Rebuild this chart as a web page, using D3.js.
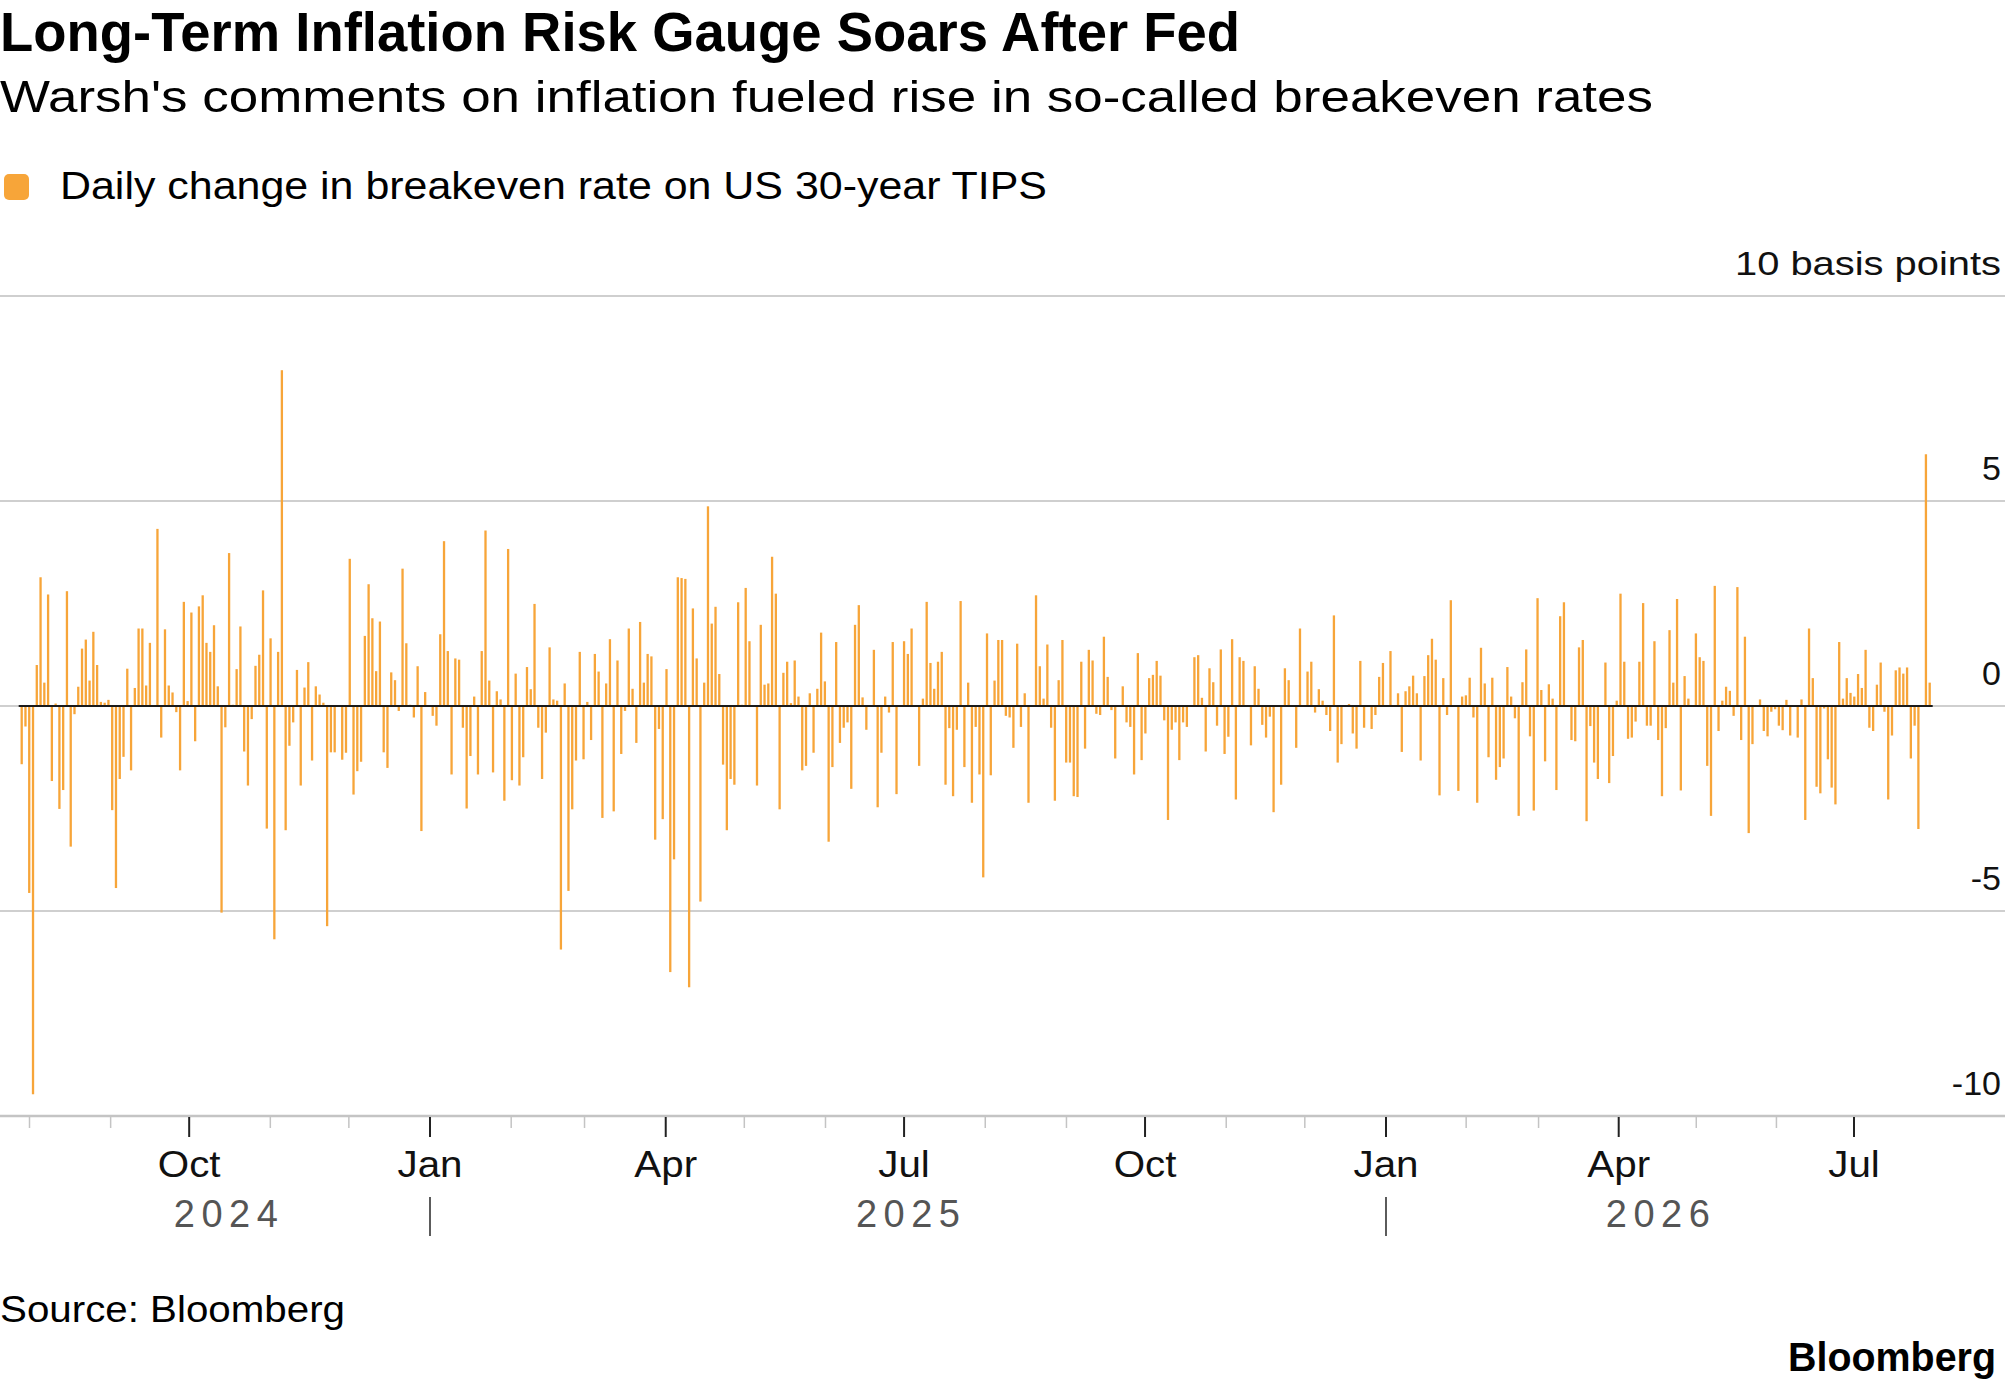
<!DOCTYPE html>
<html>
<head>
<meta charset="utf-8">
<script src="https://cdn.jsdelivr.net/npm/d3@7"></script>
<style>
  body { margin: 0; background: #ffffff; }
  svg { display: block; }
  text { font-family: "Liberation Sans", Arial, Helvetica, sans-serif; }
</style>
</head>
<body>
<svg id="chart" width="2005" height="1392"></svg>
<script>
// ---------------- DATA ----------------
const titleText = "Long-Term Inflation Risk Gauge Soars After Fed";
const subtitleText = "Warsh's comments on inflation fueled rise in so-called breakeven rates";
const seriesName = "Daily change in breakeven rate on US 30-year TIPS";
const unitLabel = "10 basis points";
const sourceText = "Source: Bloomberg";
const brandText = "Bloomberg";

// daily change in 30-year breakeven (bp), trading days from late Jul 2024 to late Jul 2026
const breakevenChange = [
  -1.42, -0.5, -4.56, -9.47, 1.0, 3.14, 0.57, 2.72, -1.83, 0.06,
  -2.51, -2.05, 2.8, -3.43, -0.2, 0.47, 1.4, 1.62, 0.62, 1.81,
  1.0, 0.1, 0.08, 0.15, -2.54, -4.44, -1.78, -1.24, 0.91, -1.57,
  0.44, 1.89, 1.89, 0.5, 1.54, 0.02, 4.32, -0.77, 1.87, 0.5,
  0.33, -0.15, -1.57, 2.54, 0.12, 2.28, -0.86, 2.43, 2.7, 1.54,
  1.32, 1.97, 0.48, -5.04, -0.52, 3.73, 0.03, 0.9, 1.94, -1.11,
  -1.94, -0.32, 0.98, 1.25, 2.82, -2.99, 1.65, -5.69, 1.32, 8.19,
  -3.03, -0.97, -0.4, 0.88, -1.94, 0.45, 1.07, -1.33, 0.48, 0.28,
  0.08, -5.37, -1.13, -1.13, 0.02, -1.31, -1.14, 3.59, -2.16, -1.59,
  -1.36, 1.71, 2.97, 2.14, 0.85, 2.06, -1.13, -1.51, 0.82, 0.63,
  -0.12,
  3.35, 1.53, 0.03, -0.28, 0.97, -3.05, 0.34, 0.02, -0.24, -0.48,
  1.75, 4.02, 1.34, -1.67, 1.16, 1.13, -0.53, -2.5, -1.22, 0.23,
  -1.67, 1.34, 4.28, 0.62, -1.62, 0.36, 0.16, -2.31, 3.83, -1.81,
  0.79, -1.94, -1.25, 0.95, 0.41, 2.49, -0.53, -1.78, -0.65, 1.43,
  0.16, 0.13, -5.94, 0.55, -4.51, -2.52, -1.33, 1.32, -1.3, 0.1,
  -0.83,
  1.27, 0.84, -2.73, 0.55, 1.63, -2.57, 1.11, -1.17, -0.12, 1.89,
  0.42, -0.9, 2.05, 0.57, 1.27, 1.21, -3.26, -0.56, -2.76, 0.9,
  -6.49, -3.74, 3.14, 3.12, 3.1, -6.86, 2.38, 1.16, -4.77, 0.57,
  4.87, 2.01, 2.42, 0.78, -1.43, -3.03, -1.78, -1.92, 2.53, 0.03,
  2.88, 1.58, 0.02, -1.94, 1.98, 0.52, 0.55, 3.64, 2.74, -2.52,
  0.81,
  1.08, 0.07, 1.11, 0.23, -1.57, -1.46, 0.31, -1.14, 0.42, 1.79,
  0.6, -3.31, -1.49, 1.56, -0.9, -0.53, -0.4, -2.02, 1.98, 2.46,
  0.21, -0.58, 0.02, 1.37, -2.47, -1.14, 0.23, -0.16, 1.56, -2.15,
  0.02, 1.58, 1.27, 1.89, 0.02, -1.46, 0.18, 2.54, 1.05, 0.42,
  1.08, 1.32, -1.92, -0.54, -2.2, -0.58, 2.56, -1.49, 0.57, -2.36,
  -0.51, -1.67, -4.18, 1.77, -1.69, 0.62, 1.61, 1.61, -0.24, -0.28,
  -1.02, 1.52, -0.51, 0.31, -2.36, 0.02, 2.7, 0.97, 0.18, 1.5,
  -0.53, -2.31, 0.63, 1.61, -1.38, -1.38, -2.2, -2.22, 1.08, -1.04,
  1.37, 1.11, -0.19, -0.22, 1.69, 0.71, -0.1, -1.28, 0.02, 0.48,
  -0.4, -0.51, -1.67, 1.29, -1.32, -0.67, 0.68, 0.76, 1.1, 0.74,
  -0.35,
  -2.78, -0.58, -0.4, -1.32, -0.4, -0.51, 0.02, 1.19, 1.24, 0.2,
  -1.11, 0.92, 0.58, -0.48, 1.38, -1.17, -0.75, 1.63, -2.28, 1.19,
  1.1, 0.02, -0.96, 0.97, 0.42, -0.46, -0.77, -0.26, -2.59, 0.02,
  -1.92, 0.92, 0.63, 0.02, -1.02, 1.89, 0.02, 0.84, 1.08, -0.16,
  0.41, 0.13, -0.22, -0.61, 2.21, -1.38, -0.93, 0.02, 0.05, -0.67,
  -1.04,
  1.1, -0.53, 0.02, -0.56, -0.22, 0.71, 1.05, 0.02, 1.34, 0.02,
  0.31, -1.12, 0.36, 0.48, 0.74, 0.31, -1.33, 0.73, 1.24, 1.64,
  1.13, -2.18, 0.68, -0.22, 2.58, 0.02, -2.07, 0.23, 0.26, 0.69,
  -0.28, -2.36, 1.42, 0.55, -1.25, 0.69, -1.8, -1.49, -1.28, 0.95,
  0.23, -0.3, -2.68, 0.58, 1.38, -0.74, -2.55, 2.63, 0.39, -1.35,
  0.53,
  0.18, -2.05, 2.19, 2.53, 0.02, -0.83, -0.86, 1.43, 1.61, -2.81,
  -0.49, -1.38, -1.78, 0.02, 1.06, -1.88, -1.22, 0.13, 2.74, 1.08,
  -0.8, -0.77, -0.38, 1.08, 2.51, -0.48, -0.48, 1.58, -0.83, -2.2,
  -0.54, 1.85, 0.57, 2.61, -2.06, 0.73, 0.18, 0.02, 1.77, 1.19,
  1.1, -1.46, -2.68, 2.93, -0.61, 0.13, 0.47, 0.37, -0.24, 2.9,
  -0.83,
  1.69, -3.1, -0.93, 0.02, 0.16, -0.61, -0.74, -0.14, -0.08, -0.48,
  -0.59, 0.15, -0.72, 0.02, -0.77, 0.16, -2.78, 1.89, 0.68, -1.97,
  -2.13, -0.06, -1.3, -1.99, -2.4, 1.56, 0.18, 0.68, 0.32, 0.23,
  0.78, 0.44, 1.37, -0.53, -0.61, 0.52, 1.06, -0.14, -2.28, -0.72,
  0.87, 0.94, 0.79, 0.94, -1.28, -0.48, -3.0, 0.02, 6.14, 0.57
];

const yTickValues = [10, 5, 0, -5, -10];
const yTickLabels = ["10 basis points", "5", "0", "-5", "-10"];
const axisStart = "2024-08-01";   // first month tick
const axisEnd = "2026-07-01";     // last month tick
const yearLabels = ["2024", "2025", "2026"];
const yearBreaks = ["2025-01-01", "2026-01-01"];

// ---------------- LAYOUT ----------------
const W = 2005, H = 1392;
const orange = "#F7A539";
const svg = d3.select("#chart");
const parse = d3.utcParse("%Y-%m-%d");

const y = d3.scaleLinear().domain([-10, 10]).range([1116, 296]);
const xIdx = d3.scaleLinear().domain([0, breakevenChange.length - 1]).range([21.7, 1929.7]);
const xTime = d3.scaleUtc()
  .domain([parse(axisStart), parse(yearBreaks[0]), parse(yearBreaks[1]), parse(axisEnd)])
  .range([29.5, 430, 1386, 1854]);

function fit(sel, width, adjust) {
  sel.attr("textLength", width).attr("lengthAdjust", adjust || "spacingAndGlyphs");
  return sel;
}

// Title block
fit(svg.append("text").attr("x", 0).attr("y", 51)
  .attr("font-size", 55).attr("font-weight", "bold").attr("fill", "#000")
  .text(titleText), 1240);
fit(svg.append("text").attr("x", 0).attr("y", 112)
  .attr("font-size", 44).attr("fill", "#000")
  .text(subtitleText), 1653);

// Legend
svg.append("rect").attr("x", 4).attr("y", 174).attr("width", 25).attr("height", 26)
  .attr("rx", 5).attr("fill", orange);
fit(svg.append("text").attr("x", 60).attr("y", 199)
  .attr("font-size", 38).attr("fill", "#000")
  .text(seriesName), 987);

// Gridlines (full width)
svg.append("g").selectAll("line").data(yTickValues.filter(v => v !== -10)).join("line")
  .attr("x1", 0).attr("x2", W)
  .attr("y1", d => y(d)).attr("y2", d => y(d))
  .attr("stroke", "#cfcfcf").attr("stroke-width", 2);

// Y labels (right aligned, above lines)
const yl = svg.append("g").selectAll("text").data(yTickValues).join("text")
  .attr("x", 2001).attr("y", d => y(d) - 21)
  .attr("text-anchor", "end").attr("font-size", 34).attr("fill", "#111")
  .text((d, i) => yTickLabels[i]);
yl.filter(d => d === 10).call(s => fit(s, 266));

// Bars
const bw = 2.3;
svg.append("g").selectAll("rect").data(breakevenChange).join("rect")
  .attr("x", (d, i) => xIdx(i) - bw / 2)
  .attr("width", bw)
  .attr("y", d => Math.min(y(d), y(0)))
  .attr("height", d => Math.max(0.6, Math.abs(y(d) - y(0))))
  .attr("fill", orange);

// Zero line
svg.append("line")
  .attr("x1", xIdx(0) - 3).attr("x2", xIdx(breakevenChange.length - 1) + 3)
  .attr("y1", y(0)).attr("y2", y(0))
  .attr("stroke", "#1a1a1a").attr("stroke-width", 2);

// Bottom axis line
svg.append("line").attr("x1", 0).attr("x2", W)
  .attr("y1", y(-10)).attr("y2", y(-10))
  .attr("stroke", "#c4c4c4").attr("stroke-width", 2.5);

// Month ticks
const months = d3.utcMonth.range(parse(axisStart), d3.utcDay.offset(parse(axisEnd), 1));
const isMajor = d => d.getUTCMonth() % 3 === 0;
svg.append("g").selectAll("line").data(months).join("line")
  .attr("x1", d => xTime(d)).attr("x2", d => xTime(d))
  .attr("y1", y(-10) + 1).attr("y2", d => isMajor(d) ? 1137 : 1128)
  .attr("stroke", d => isMajor(d) ? "#222" : "#c4c4c4")
  .attr("stroke-width", d => isMajor(d) ? 2 : 1.5);

const fmt = d3.utcFormat("%b");
svg.append("g").selectAll("text").data(months.filter(isMajor)).join("text")
  .attr("x", d => xTime(d)).attr("y", 1177)
  .attr("text-anchor", "middle").attr("font-size", 36).attr("fill", "#111")
  .text(d => fmt(d))
  .each(function () {
    const n = this.getComputedTextLength();
    d3.select(this).attr("textLength", n * 1.12).attr("lengthAdjust", "spacingAndGlyphs");
  });

// Year separators and labels
const breaks = yearBreaks.map(parse);
svg.append("g").selectAll("line").data(breaks).join("line")
  .attr("x1", d => xTime(d)).attr("x2", d => xTime(d))
  .attr("y1", 1197).attr("y2", 1236)
  .attr("stroke", "#333").attr("stroke-width", 1.6);

const edges = [xIdx(0)].concat(breaks.map(d => xTime(d))).concat([xIdx(breakevenChange.length - 1)]);
svg.append("g").selectAll("text").data(yearLabels).join("text")
  .attr("x", (d, i) => (edges[i] + edges[i + 1]) / 2).attr("y", 1227)
  .attr("text-anchor", "middle").attr("font-size", 38).attr("fill", "#555")
  .text(d => d)
  .attr("textLength", 104).attr("lengthAdjust", "spacing");

// Source and brand
fit(svg.append("text").attr("x", 0).attr("y", 1322)
  .attr("font-size", 36).attr("fill", "#000")
  .text(sourceText), 345);
fit(svg.append("text").attr("x", 1996).attr("y", 1371)
  .attr("text-anchor", "end").attr("font-size", 40).attr("font-weight", "bold").attr("fill", "#000")
  .text(brandText), 208);
</script>
</body>
</html>
